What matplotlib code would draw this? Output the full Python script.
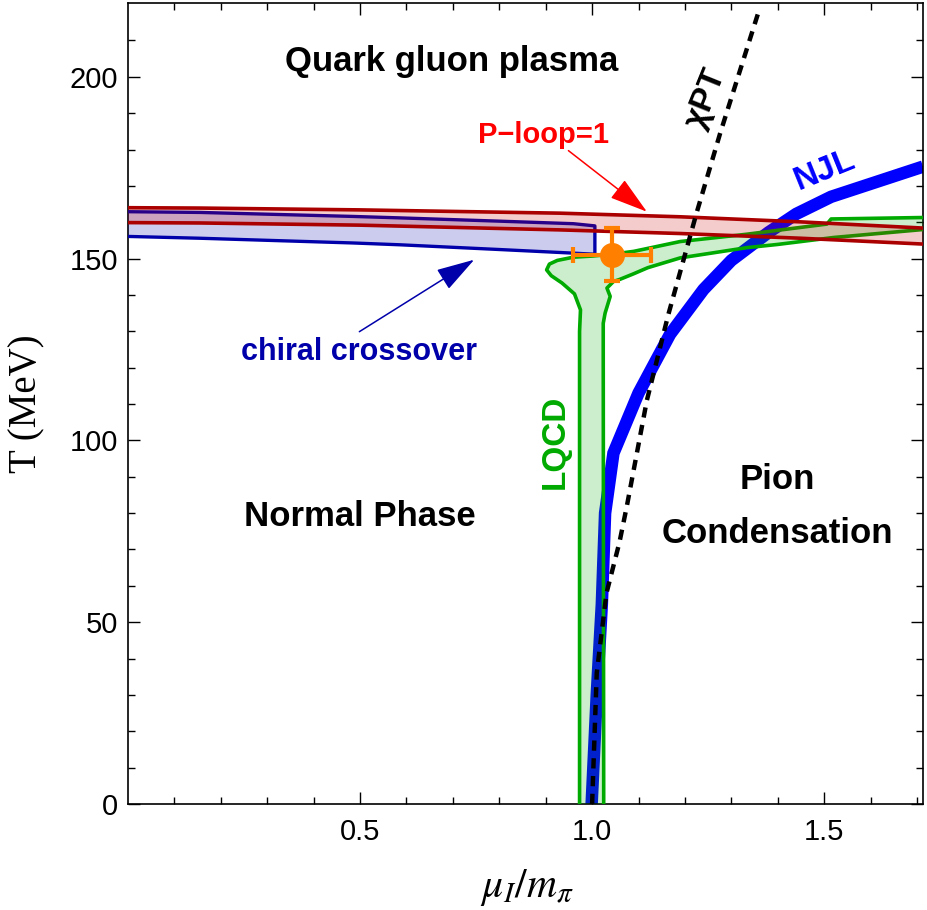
import matplotlib
matplotlib.use("Agg")
import matplotlib.pyplot as plt
import numpy as np

plt.rcParams['font.family'] = ['Liberation Sans', 'DejaVu Sans']
plt.rcParams['mathtext.fontset'] = 'stix'

# P-loop = 1 band (Polyakov loop)
ploop_mu = [0.0, 0.155, 0.5, 0.93, 1.19, 1.45, 1.713]
ploop_T_hi = [164.0, 163.9, 163.4, 162.5, 161.5, 160.1, 158.4]
ploop_T_lo = [159.9, 159.8, 159.2, 157.9, 156.9, 155.6, 154.0]

# chiral crossover band
chiral_mu = [0.0, 0.155, 0.485, 0.586, 0.80, 0.96, 1.006]
chiral_T_hi = [162.9, 162.7, 161.6, 161.2, 160.3, 159.6, 159.0]
chiral_T_lo = [156.1, 155.6, 154.3, 153.8, 152.5, 151.5, 151.2]

# lattice QCD region: left/upper boundary and right/lower boundary
lqcd_top_mu = [0.973, 0.973, 0.975, 0.962, 0.935, 0.912, 0.902, 0.908, 0.925, 0.96, 1.00,
               1.043, 1.09, 1.19, 1.333, 1.506, 1.515, 1.713]
lqcd_top_T = [0, 130, 135.9, 140.3, 143.3, 145.3, 146.9, 148.5, 149.5, 150.4, 150.7,
              151.2, 152.0, 154.7, 156.7, 159.5, 160.9, 161.3]
lqcd_bot_mu = [1.025, 1.024, 1.024, 1.028, 1.039, 1.032, 1.046, 1.060, 1.089, 1.12, 1.19,
               1.333, 1.40, 1.52, 1.713]
lqcd_bot_T = [0, 125, 132.2, 135.0, 139.6, 141.9, 143.7, 144.3, 145.8, 147.5, 150.2,
              153.0, 153.9, 155.8, 158.0]

# NJL model boundary
njl_mu = [0.999, 1.010, 1.021, 1.028, 1.046, 1.10, 1.168, 1.24, 1.30, 1.38, 1.44, 1.515, 1.713]
njl_T = [0, 30, 55, 80, 96.5, 113, 129.2, 141.5, 149.5, 157.2, 162.3, 167.0, 175.3]

# chiral perturbation theory
chpt_mu = [1.0, 1.010, 1.031, 1.059, 1.075, 1.118, 1.164, 1.225, 1.276, 1.358]
chpt_T = [0, 36, 58, 72, 82, 111, 134.5, 162.5, 184.5, 217.6]

# lattice pseudo-critical point
lat_mu, lat_T = 1.043, 151.1
lat_mu_err, lat_T_err = 0.084, 7.3

xticks = [0.5, 1.0, 1.5]
xtick_labels = ['0.5', '1.0', '1.5']
yticks = [0, 50, 100, 150, 200]

fig = plt.figure(figsize=(9.27, 9.10), dpi=100)
ax = fig.add_axes([128/927, 1-804/910, 795/927, 801/910])

# NJL line
ax.plot(njl_mu, njl_T, color='#0000ff', lw=9, solid_joinstyle='miter',
        solid_capstyle='butt', zorder=2)

# LQCD region
ax.fill(lqcd_top_mu + lqcd_bot_mu[::-1], lqcd_top_T + lqcd_bot_T[::-1],
        facecolor='#00aa00', alpha=0.2, edgecolor='none', zorder=3)
ax.plot(lqcd_top_mu, lqcd_top_T, color='#00aa00', lw=2.6, zorder=3)
ax.plot(lqcd_bot_mu, lqcd_bot_T, color='#00aa00', lw=2.6, zorder=3)

# chiral crossover band
ax.fill(chiral_mu + chiral_mu[::-1], chiral_T_hi + chiral_T_lo[::-1],
        facecolor='#0000aa', alpha=0.2, edgecolor='none', zorder=4)
ax.plot(chiral_mu + chiral_mu[::-1], chiral_T_hi + chiral_T_lo[::-1],
        color='#0000aa', lw=2.4, zorder=4)

# P-loop band
ax.fill_between(ploop_mu, ploop_T_lo, ploop_T_hi, facecolor='#cc0000', alpha=0.2,
                edgecolor='none', zorder=5)
ax.plot(ploop_mu, ploop_T_hi, color='#aa0000', lw=2.6, zorder=5)
ax.plot(ploop_mu, ploop_T_lo, color='#aa0000', lw=2.6, zorder=5)

# chiPT
ax.plot(chpt_mu, chpt_T, color='black', lw=3.2, ls=(0, (2.3, 1.7)),
        dash_capstyle='butt', zorder=6)

ax.errorbar([lat_mu], [lat_T], xerr=[lat_mu_err], yerr=[lat_T_err], fmt='o',
            color='#ff8000', ms=17, lw=3, capsize=6, capthick=3, zorder=8)

# arrows
ax.annotate('', xy=(1.118, 162.9), xytext=(0.949, 179.7),
            arrowprops=dict(arrowstyle='-|>,head_length=1.2,head_width=0.36',
                            mutation_scale=20, color='#ff0000', lw=1.1,
                            shrinkA=0, shrinkB=0), zorder=9)
ax.annotate('', xy=(0.746, 149.7), xytext=(0.4985, 129.9),
            arrowprops=dict(arrowstyle='-|>,head_length=1.2,head_width=0.36',
                            mutation_scale=20, color='#0000aa', lw=1.1,
                            shrinkA=0, shrinkB=0), zorder=9)

# labels
ax.text(0.697, 201.5, 'Quark gluon plasma', fontsize=25, fontweight='bold',
        ha='center', va='baseline')
ax.text(0.896, 181.7, 'P\u2212loop=1', fontsize=21, fontweight='bold', color='#ff0000',
        ha='center', va='baseline')
ax.text(0.497, 122, 'chiral crossover', fontsize=22, fontweight='bold', color='#0000aa',
        ha='center', va='baseline')
ax.text(0.920, 99.7, 'LQCD', fontsize=24, fontweight='bold', color='#00aa00',
        rotation=90, ha='center', va='center', rotation_mode='anchor')
ax.text(0.499, 76.5, 'Normal Phase', fontsize=25, fontweight='bold',
        ha='center', va='baseline')
ax.text(1.40, 86.6, 'Pion', fontsize=25, fontweight='bold', ha='center', va='baseline')
ax.text(1.40, 71.7, 'Condensation', fontsize=25, fontweight='bold',
        ha='center', va='baseline')
ax.text(1.502, 174.4, 'NJL', fontsize=24, fontweight='bold', color='#0000ff',
        rotation=22, ha='center', va='center', rotation_mode='anchor')
ax.text(1.246, 193.9, '\u03c7PT', fontsize=24, fontweight='bold',
        rotation=68, ha='center', va='center', rotation_mode='anchor')

ax.set_xlim(0, 1.713)
ax.set_ylim(0, 220.3)
ax.set_xticks(xticks)
ax.set_xticklabels(xtick_labels)
ax.set_xticks(np.arange(0.1, 1.71, 0.1), minor=True)
ax.set_yticks(yticks)
ax.set_yticks(np.arange(10, 220, 10), minor=True)
ax.tick_params(which='both', direction='in', top=True, right=True, labelsize=21, width=1)
ax.tick_params(which='major', length=8.5)
ax.tick_params(which='minor', length=5)
ax.tick_params(axis='x', pad=10)
ax.tick_params(axis='y', pad=7)
for s in ax.spines.values():
    s.set_linewidth(1.2)

fig.text(27/927, 1-404/910, 'T (MeV)', family='Liberation Serif', fontsize=28,
         rotation=90, ha='center', va='center')
fig.text(527/927, 1-888/910, r'$\mu_I/m_\pi$', fontsize=30, ha='center', va='center')

fig.savefig('out.png', dpi=100)
